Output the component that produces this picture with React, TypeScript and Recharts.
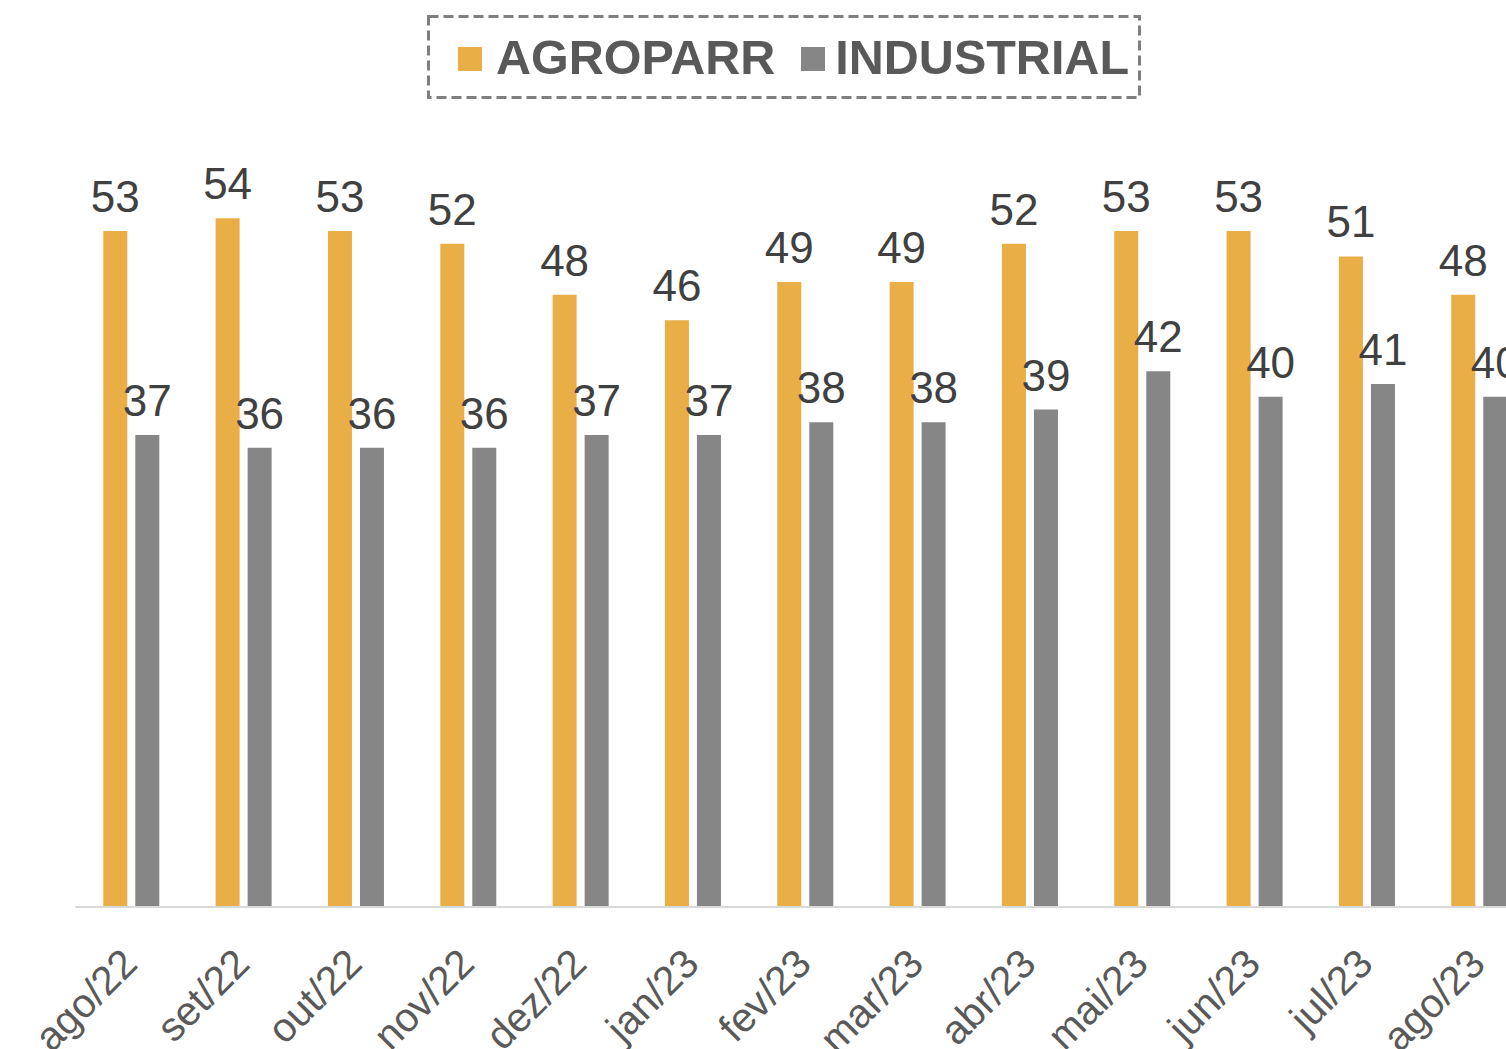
import { Bar, BarChart, LabelList, Legend, XAxis, YAxis } from 'recharts';

const months = [
  'ago/22', 'set/22', 'out/22', 'nov/22', 'dez/22', 'jan/23', 'fev/23',
  'mar/23', 'abr/23', 'mai/23', 'jun/23', 'jul/23', 'ago/23',
];
const agroparr = [53, 54, 53, 52, 48, 46, 49, 49, 52, 53, 53, 51, 48];
const industrial = [37, 36, 36, 36, 37, 37, 38, 38, 39, 42, 40, 41, 40];

const ORANGE = '#EAAE47';
const GRAY = '#868686';
const FONT = '"Liberation Sans", Arial, sans-serif';

const data = months.map((month, i) => ({
  month,
  agroparr: agroparr[i],
  industrial: industrial[i],
}));

function MonthTick({ x, y, payload }: any) {
  const ax = x + 8;
  const ay = y + 59;
  return (
    <text
      x={ax}
      y={ay}
      transform={`rotate(-45, ${ax}, ${ay})`}
      textAnchor='end'
      fontSize={40.5}
      fontFamily={FONT}
      fill='#595959'
    >
      {payload.value}
    </text>
  );
}

function LegendBox({ payload }: any) {
  return (
    <div style={{ position: 'relative', width: 714, height: 84, fontFamily: FONT }}>
      <svg width={714} height={84} style={{ position: 'absolute', left: 0, top: 0 }}>
        <rect x={1.5} y={1.5} width={711} height={81} fill='none' stroke='#7F7F7F' strokeWidth={3} strokeDasharray='10 5' />
      </svg>
      <div
        style={{
          position: 'absolute',
          left: 31,
          top: 0,
          height: 84,
          display: 'flex',
          alignItems: 'center',
        }}
      >
        {(payload || []).map((entry: any, i: number) => (
          <div key={entry.value} style={{ display: 'flex', alignItems: 'center', marginLeft: i === 0 ? 0 : 26 }}>
            <span style={{ width: 24, height: 24, background: entry.color, marginRight: i === 0 ? 14 : 10, marginTop: 4 }} />
            <span style={{ fontSize: 48.5, fontWeight: 'bold', color: '#595959', lineHeight: 1 }}>{entry.value}</span>
          </div>
        ))}
      </div>
    </div>
  );
}

export default function App() {
  return (
    <div
      style={{
        position: 'fixed',
        left: 0,
        top: 0,
        width: 1506,
        height: 1049,
        overflow: 'hidden',
        background: '#fff',
      }}
    >
      <BarChart
        width={1560}
        height={1049}
        data={data}
        margin={{ top: 141.7, right: 24.4, bottom: 0, left: 75.3 }}
        barSize={24}
        barGap={8}
      >
        <XAxis
          dataKey='month'
          axisLine={{ stroke: '#D9D9D9', strokeWidth: 2 }}
          tickLine={false}
          tickSize={0}
          tickMargin={0}
          height={142}
          interval={0}
          tick={<MonthTick />}
        />
        <YAxis hide domain={[0, 60]} />
        <Legend
          verticalAlign='middle'
          layout='horizontal'
          content={<LegendBox />}
          wrapperStyle={{ top: 15, left: 427, width: 714, height: 84 }}
        />
        <Bar dataKey='agroparr' name='AGROPARR' fill={ORANGE} isAnimationActive={false}>
          <LabelList dataKey='agroparr' position='top' offset={19} fontSize={44} fill='#404040' fontFamily={FONT} />
        </Bar>
        <Bar dataKey='industrial' name='INDUSTRIAL' fill={GRAY} isAnimationActive={false}>
          <LabelList dataKey='industrial' position='top' offset={19} fontSize={44} fill='#404040' fontFamily={FONT} />
        </Bar>
      </BarChart>
    </div>
  );
}
